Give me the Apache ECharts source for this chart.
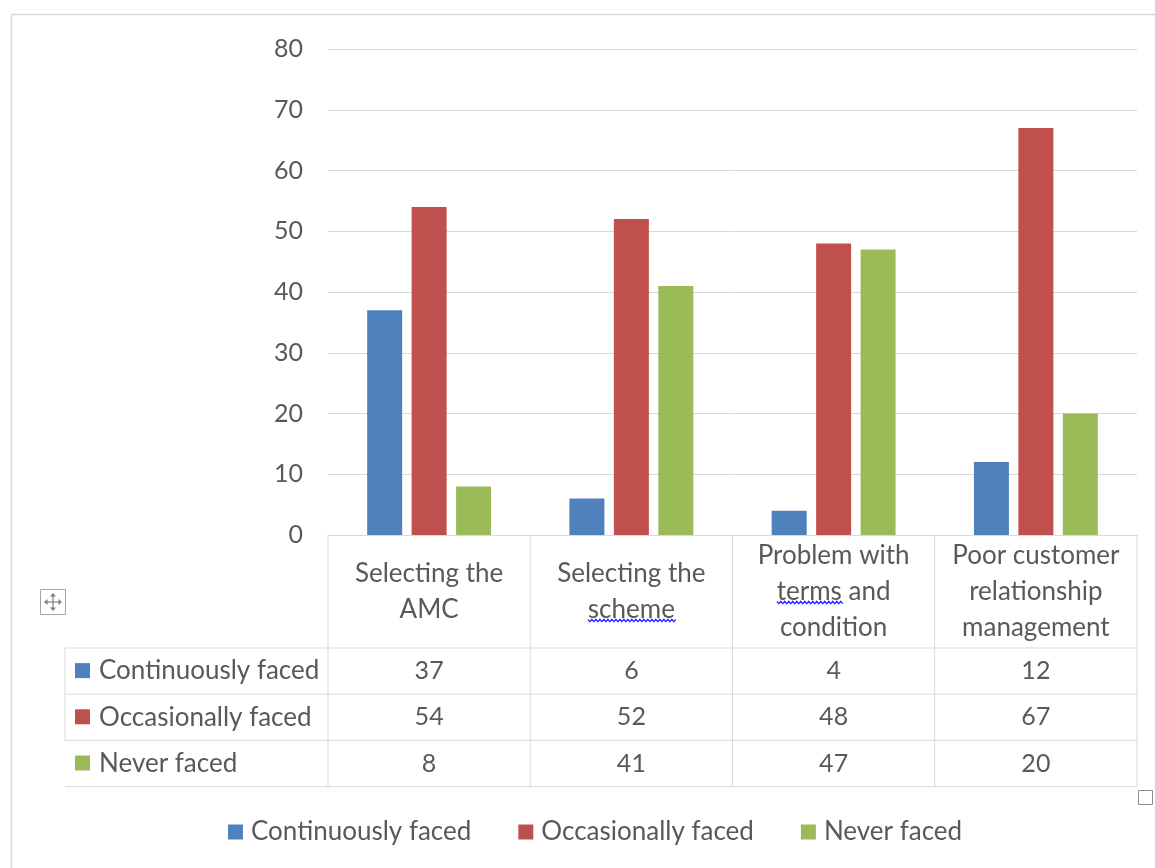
<!DOCTYPE html>
<html>
<head>
<meta charset="utf-8">
<script src="https://cdn.jsdelivr.net/npm/echarts@6/dist/echarts.min.js"></script>
<style>
  html, body { margin: 0; padding: 0; background: #fff; }
  #chart { width: 1155px; height: 868px; }
</style>
</head>
<body>
<div id="chart"></div>
<script>
// Problem categories (column headers of the data table)
const categories = [
  'Selecting the\nAMC',
  'Selecting the\nscheme',
  'Problem with\nterms and\ncondition',
  'Poor customer\nrelationship\nmanagement'
];
const seriesNames = ['Continuously faced', 'Occasionally faced', 'Never faced'];
const continuouslyFaced = [37, 6, 4, 12];
const occasionallyFaced = [54, 52, 48, 67];
const neverFaced = [8, 41, 47, 20];
const seriesColors = ['#4F81BD', '#C0504D', '#9BBB59'];
const yMin = 0, yMax = 80, yStep = 10;
// words flagged by the spell checker: [category index, line index, word]
const flaggedWords = [[1, 1, 'scheme'], [2, 1, 'terms']];

const FONT = 'Lato';
const TEXT = '#595959';
const LINE = '#d9d9d9';
const FS = 26;      // word labels
const FS_NUM = 25;  // numeric labels

const seriesValues = [continuouslyFaced, occasionallyFaced, neverFaced];

const chart = echarts.init(document.getElementById('chart'), null, { renderer: 'canvas' });

chart.setOption({
  animation: false,
  backgroundColor: '#fff',
  textStyle: { fontFamily: FONT, color: TEXT },
  grid: { left: 328, right: 18, top: 49, bottom: 333, containLabel: false },
  legend: {
    data: seriesNames,
    left: 228,
    top: 819,
    padding: 0,
    icon: 'rect',
    itemWidth: 15,
    itemHeight: 15,
    itemGap: 47,
    textStyle: { fontFamily: FONT, fontSize: FS, color: TEXT, padding: [0, 0, 0, 3] }
  },
  xAxis: {
    type: 'category',
    data: categories,
    axisLine: { show: true, lineStyle: { color: LINE, width: 1 } },
    axisTick: { show: false },
    axisLabel: { show: false }
  },
  yAxis: {
    type: 'value',
    min: yMin,
    max: yMax,
    interval: yStep,
    axisLine: { show: false },
    axisTick: { show: false },
    axisLabel: { fontFamily: FONT, fontSize: FS_NUM, color: TEXT, margin: 25 },
    splitLine: { lineStyle: { color: LINE, width: 1 } }
  },
  series: seriesNames.map((name, i) => ({
    name: name,
    type: 'bar',
    data: seriesValues[i],
    barWidth: 35,
    barGap: '27%',
    itemStyle: { color: seriesColors[i] }
  }))
});

const measureCtx = document.createElement('canvas').getContext('2d');
function textWidth(s, size) {
  measureCtx.font = size + 'px ' + FONT;
  return measureCtx.measureText(s).width;
}

// Data table under the plot, positioned from the category axis
function buildTable() {
  const n = categories.length;
  const centers = categories.map((_, i) => chart.convertToPixel({ xAxisIndex: 0 }, i));
  const band = n > 1 ? centers[1] - centers[0] : 200;
  const bounds = [];
  for (let i = 0; i < n; i++) bounds.push(centers[i] - band / 2);
  bounds.push(centers[n - 1] + band / 2);
  const tableTop = chart.convertToPixel({ yAxisIndex: 0 }, yMin);
  const headerBottom = tableTop + 113;
  const rowH = 46.2;
  const rowLines = [headerBottom, headerBottom + rowH, headerBottom + 2 * rowH, headerBottom + 3 * rowH];
  const tableLeft = 65;
  const tableRight = bounds[n];
  const g = [];
  const ls = { stroke: LINE, lineWidth: 1 };

  // outer frame of the chart area
  g.push({ type: 'rect', shape: { x: 11.5, y: 14.5, width: 1160, height: 870 },
           style: { fill: null, stroke: '#d9d9d9', lineWidth: 1.5 }, silent: true });

  // vertical lines
  bounds.forEach(x => g.push({ type: 'line', shape: { x1: x, y1: tableTop, x2: x, y2: rowLines[3] }, style: ls }));
  g.push({ type: 'line', shape: { x1: tableLeft, y1: rowLines[0], x2: tableLeft, y2: rowLines[2] }, style: ls });
  // horizontal lines
  rowLines.forEach(y => g.push({ type: 'line', shape: { x1: tableLeft, y1: y, x2: tableRight, y2: y }, style: ls }));

  // header labels
  const LH = 36;
  const headerMid = (tableTop + headerBottom) / 2;
  categories.forEach((c, i) => g.push({
    type: 'text', x: centers[i], y: headerMid,
    style: { text: c, fontFamily: FONT, fontSize: FS, fill: TEXT, align: 'center', verticalAlign: 'middle', lineHeight: LH }
  }));

  // wavy spell-check underlines
  flaggedWords.forEach(([ci, li, word]) => {
    const lines = categories[ci].split('\n');
    const line = lines[li];
    const lineW = textWidth(line, FS);
    const start = centers[ci] - lineW / 2 + textWidth(line.slice(0, line.indexOf(word)), FS);
    const w = textWidth(word, FS);
    const lineMid = headerMid + (li - (lines.length - 1) / 2) * LH;
    const yb = lineMid + 11;
    const pts = [];
    for (let k = 0; k <= Math.round(w / 2); k++) {
      pts.push([start + k * 2, yb + (k % 2 ? 1.2 : -1.2)]);
    }
    g.push({ type: 'polyline', shape: { points: pts }, style: { stroke: '#2f2fff', lineWidth: 1.2, fill: null } });
  });

  // row headers and values
  seriesNames.forEach((name, r) => {
    const ym = (rowLines[r] + rowLines[r + 1]) / 2;
    g.push({ type: 'rect', shape: { x: 75, y: ym - 8, width: 15, height: 15 }, style: { fill: seriesColors[r] } });
    g.push({ type: 'text', x: 99, y: ym, style: { text: name, fontFamily: FONT, fontSize: FS, fill: TEXT, align: 'left', verticalAlign: 'middle' } });
    seriesValues[r].forEach((v, i) => g.push({
      type: 'text', x: centers[i], y: ym,
      style: { text: String(v), fontFamily: FONT, fontSize: FS_NUM, fill: TEXT, align: 'center', verticalAlign: 'middle' }
    }));
  });

  // table move handle
  const hx = 40, hy = 589, hs = 25;
  const hc = '#7f7f7f';
  g.push({ type: 'rect', shape: { x: hx + 0.5, y: hy + 0.5, width: hs, height: hs }, style: { fill: '#fff', stroke: '#a6a6a6', lineWidth: 1 } });
  const cx = hx + hs / 2 + 0.5, cy = hy + hs / 2 + 0.5;
  g.push({ type: 'line', shape: { x1: cx - 8, y1: cy, x2: cx + 8, y2: cy }, style: { stroke: hc, lineWidth: 1.2 } });
  g.push({ type: 'line', shape: { x1: cx, y1: cy - 8, x2: cx, y2: cy + 8 }, style: { stroke: hc, lineWidth: 1.2 } });
  [[0, -1], [0, 1], [-1, 0], [1, 0]].forEach(([dx, dy]) => {
    const tx = cx + dx * 9, ty = cy + dy * 9;
    const px = -dy, py = dx;
    g.push({ type: 'polygon', shape: { points: [
      [tx, ty],
      [tx - dx * 3.5 + px * 3, ty - dy * 3.5 + py * 3],
      [tx - dx * 3.5 - px * 3, ty - dy * 3.5 - py * 3]
    ] }, style: { fill: hc } });
  });

  // resize handle below the table
  g.push({ type: 'rect', shape: { x: 1138.5, y: 790.5, width: 14, height: 14 }, style: { fill: '#fff', stroke: '#8c8c8c', lineWidth: 1 } });

  chart.setOption({ graphic: { elements: g } });
}
buildTable();
</script>
</body>
</html>
